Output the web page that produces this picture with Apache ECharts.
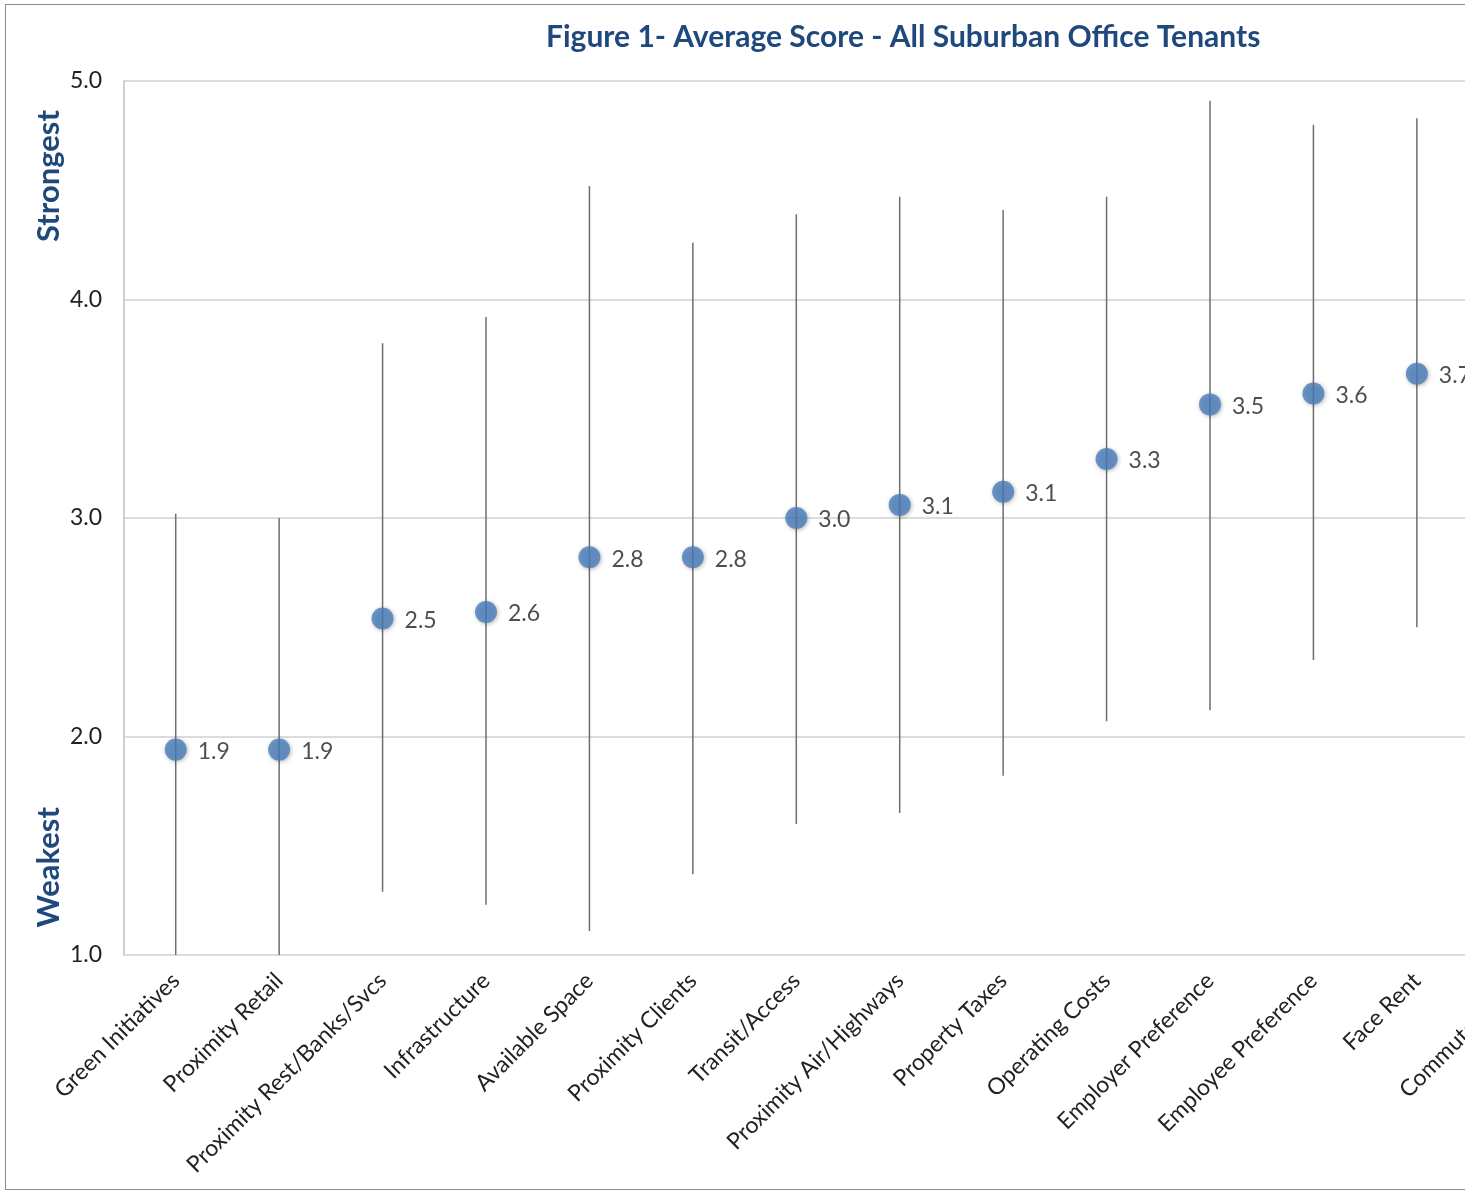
<!DOCTYPE html>
<html>
<head>
<meta charset="utf-8">
<title>Figure 1 - Average Score</title>
<script src="https://cdn.jsdelivr.net/npm/echarts@6/dist/echarts.min.js"></script>
<style>
  html, body { margin: 0; padding: 0; background: #fff; overflow: hidden; }
  #frame {
    position: absolute; left: 5px; top: 4px; width: 1800px; height: 1184px;
    border: 1px solid #8c8c8c; pointer-events: none;
  }
  #chart { position: absolute; left: 0; top: 0; width: 1800px; height: 1190px; }
</style>
</head>
<body>
<div id="chart"></div>
<div id="frame"></div>
<script>
// factors, sorted by average score
const factors = [
  "Green Initiatives", "Proximity Retail", "Proximity Rest/Banks/Svcs",
  "Infrastructure", "Available Space", "Proximity Clients", "Transit/Access",
  "Proximity Air/Highways", "Property Taxes", "Operating Costs",
  "Employer Preference", "Employee Preference", "Face Rent", "Commute Times"
];
const avgScore = [1.94, 1.94, 2.54, 2.57, 2.82, 2.82, 3.00, 3.06, 3.12, 3.27, 3.52, 3.57, 3.66, 3.75];
const lowScore = [1.0, 1.0, 1.29, 1.23, 1.11, 1.37, 1.60, 1.65, 1.82, 2.07, 2.12, 2.35, 2.50, 2.60];
const highScore = [3.02, 3.00, 3.80, 3.92, 4.52, 4.26, 4.39, 4.47, 4.41, 4.47, 4.91, 4.80, 4.83, 4.85];
const yTicks = [1, 2, 3, 4, 5];

const rangeData = factors.map((f, i) => [i, lowScore[i], highScore[i]]);

const chart = echarts.init(document.getElementById("chart"));
const font = "Lato, 'Open Sans', sans-serif";

const option = {
  animation: false,
  textStyle: { fontFamily: font },
  title: {
    text: "Figure 1- Average Score - All Suburban Office Tenants",
    left: 541,
    top: 17,
    textStyle: { fontFamily: font, fontSize: 30, fontWeight: "bold", color: "#1f497d" }
  },
  graphic: [
    {
      type: "text", left: 33, top: 110, rotation: Math.PI / 2,
      style: { text: "Strongest", font: "bold 31px " + font, fill: "#1f497d" }
    },
    {
      type: "text", left: 33, top: 807, rotation: Math.PI / 2,
      style: { text: "Weakest", font: "bold 31px " + font, fill: "#1f497d" }
    }
  ],
  grid: { left: 124, top: 81, width: 1448, height: 874 },
  xAxis: {
    type: "category",
    data: factors,
    axisLine: { show: false },
    axisTick: { show: false },
    axisLabel: {
      interval: 0, rotate: 45, margin: 22,
      fontSize: 23, color: "#222", fontFamily: font
    }
  },
  yAxis: {
    type: "value",
    min: 1, max: 5, interval: 1,
    axisLine: { show: true, lineStyle: { color: "#c0c0c0", width: 1.5 } },
    axisTick: { show: false },
    splitLine: { lineStyle: { color: "#d0d0d0", width: 1.5 } },
    axisLabel: {
      margin: 22, fontSize: 23, color: "#222", fontFamily: font,
      formatter: (v) => yTicks.includes(v) ? v.toFixed(1) : ""
    }
  },
  series: [
    {
      // high-low range
      type: "custom",
      data: rangeData,
      renderItem: (params, api) => {
        const lo = api.coord([api.value(0), api.value(1)]);
        const hi = api.coord([api.value(0), api.value(2)]);
        return {
          type: "line",
          shape: { x1: lo[0], y1: lo[1], x2: hi[0], y2: hi[1] },
          style: { stroke: "#6e6e6e", lineWidth: 1.5 }
        };
      },
      z: 1
    },
    {
      type: "scatter",
      data: avgScore,
      symbolSize: 22,
      itemStyle: {
        color: "#4a7ebd",
        shadowBlur: 4, shadowColor: "rgba(0,0,0,0.35)", shadowOffsetX: 1, shadowOffsetY: 1
      },
      label: {
        show: true, position: "right", distance: 11, offset: [0, 2],
        fontSize: 23, color: "#222", fontFamily: font,
        formatter: (p) => p.value.toFixed(1)
      },
      z: 3
    }
  ]
};

chart.setOption(option);
</script>
</body>
</html>
